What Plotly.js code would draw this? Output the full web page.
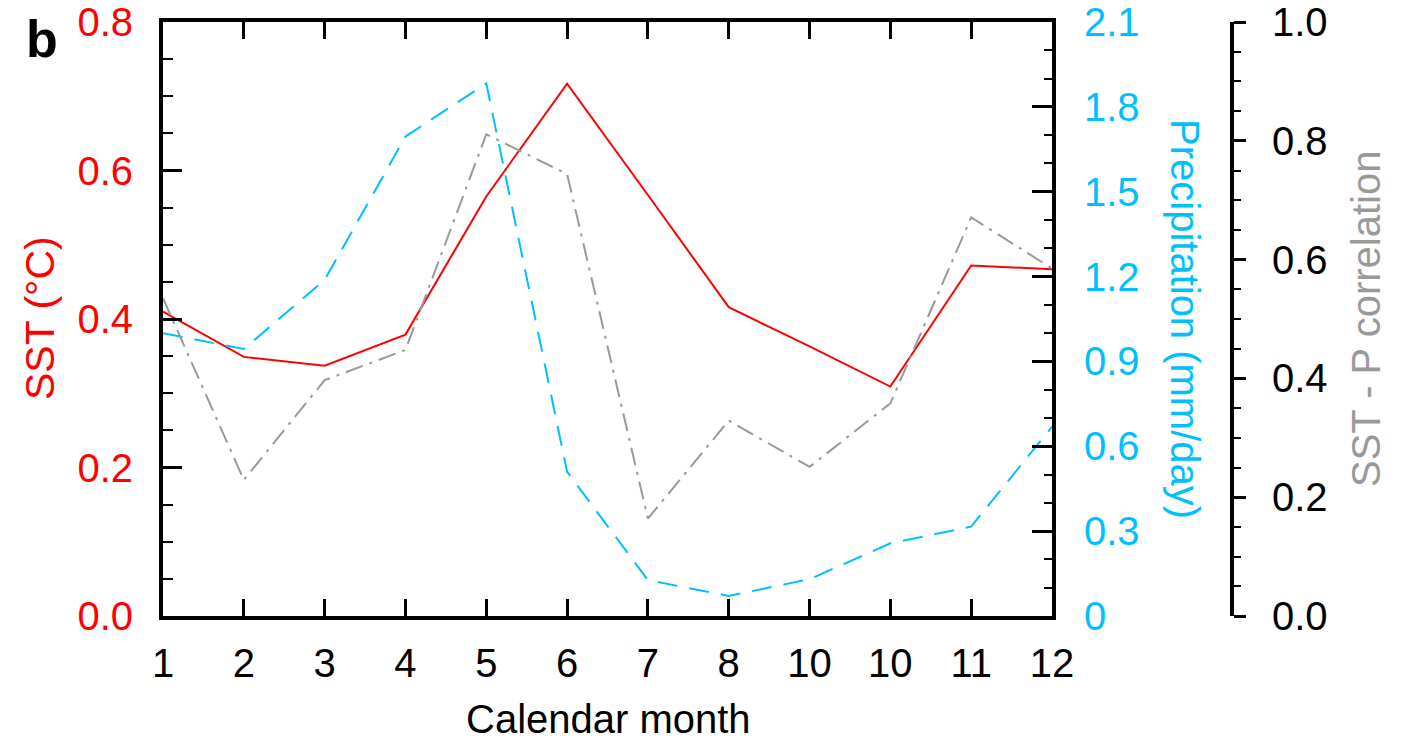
<!DOCTYPE html>
<html>
<head>
<meta charset="utf-8">
<script src="https://cdn.plot.ly/plotly-3.0.1.min.js"></script>
<style>html,body{margin:0;padding:0;background:#fff;}#chart{width:1403px;height:743px;}</style>
</head>
<body>
<div id="chart"></div>
<script>
// ---- data ----
var months = [1, 2, 3, 4, 5, 6, 7, 8, 9, 10, 11, 12];
var monthLabels = ["1", "2", "3", "4", "5", "6", "7", "8", "10", "10", "11", "12"];
var sst = [0.41, 0.349, 0.337, 0.379, 0.565, 0.717, 0.567, 0.416, 0.363, 0.309, 0.472, 0.467];
var precip = [1.0, 0.944, 1.188, 1.695, 1.883, 0.51, 0.127, 0.071, 0.13, 0.257, 0.316, 0.669];
var corr = [0.535, 0.229, 0.397, 0.448, 0.811, 0.744, 0.164, 0.329, 0.251, 0.358, 0.671, 0.585];
var sstTicks = [0, 0.2, 0.4, 0.6, 0.8];
var sstTickText = ["0.0", "0.2", "0.4", "0.6", "0.8"];
var precipTicks = [0, 0.3, 0.6, 0.9, 1.2, 1.5, 1.8, 2.1];
var precipTickText = ["0", "0.3", "0.6", "0.9", "1.2", "1.5", "1.8", "2.1"];
var corrTicks = [0, 0.2, 0.4, 0.6, 0.8, 1.0];
var corrTickText = ["0.0", "0.2", "0.4", "0.6", "0.8", "1.0"];

var FONT = "Liberation Sans, Arial, Helvetica, sans-serif";
var RED = "#ff0000", BLUE = "#00bfff", GRAY = "#999999";

var L = 163, R = 140, T = 22, B = 127, W = 1403, H = 743;
var PW = W - L - R, PH = H - T - B;
function px(x) { return (x - L) / PW; }
function py(y) { return (H - B - y) / PH; }

var traces = [
  { x: months, y: corr, yaxis: "y3", mode: "lines", line: { color: GRAY, width: 2, dash: "18px,7px,3px,7px" }, hoverinfo: "skip" },
  { x: months, y: precip, yaxis: "y2", mode: "lines", line: { color: BLUE, width: 2, dash: "20px,12px" }, hoverinfo: "skip" },
  { x: months, y: sst, yaxis: "y", mode: "lines", line: { color: RED, width: 2 }, hoverinfo: "skip" }
];

var layout = {
  width: W, height: H,
  margin: { l: L, r: R, t: T, b: B, pad: 0 },
  paper_bgcolor: "#fff", plot_bgcolor: "#fff",
  showlegend: false,
  font: { family: FONT, size: 40, color: "#000" },
  xaxis: {
    domain: [0, px(1052)],
    range: [1, 12],
    tickmode: "array", tickvals: months, ticktext: monthLabels,
    ticks: "inside", ticklen: 17, tickwidth: 3, tickcolor: "#000",
    showline: true, linewidth: 4, linecolor: "#000", mirror: "ticks",
    showgrid: false, zeroline: false,
    tickfont: { family: FONT, size: 40, color: "#000" },
    ticklabelstandoff: 9
  },
  yaxis: {
    range: [0, 0.8],
    tickmode: "array", tickvals: sstTicks, ticktext: sstTickText,
    ticks: "inside", ticklen: 19, tickwidth: 3, tickcolor: "#000",
    minor: { tickmode: "linear", tick0: 0, dtick: 0.05, ticks: "inside", ticklen: 10, tickwidth: 2, tickcolor: "#000" },
    showline: true, linewidth: 4, linecolor: "#000",
    showgrid: false, zeroline: false,
    tickfont: { family: FONT, size: 40, color: RED },
    ticklabelstandoff: 18
  },
  yaxis2: {
    overlaying: "y", side: "right", anchor: "x",
    range: [0, 2.1],
    tickmode: "array", tickvals: precipTicks, ticktext: precipTickText,
    ticks: "inside", ticklen: 20, tickwidth: 3, tickcolor: "#000",
    minor: { tickmode: "linear", tick0: 0, dtick: 0.1, ticks: "inside", ticklen: 8, tickwidth: 2, tickcolor: "#000" },
    showline: true, linewidth: 4, linecolor: "#000",
    showgrid: false, zeroline: false,
    tickfont: { family: FONT, size: 40, color: BLUE },
    ticklabelstandoff: 20
  },
  yaxis3: {
    overlaying: "y", side: "right", anchor: "free", position: px(1232),
    range: [0, 1],
    tickmode: "array", tickvals: corrTicks, ticktext: corrTickText,
    ticks: "outside", ticklen: 12, tickwidth: 3, tickcolor: "#000",
    minor: { tickmode: "linear", tick0: 0, dtick: 0.05, ticks: "outside", ticklen: 7, tickwidth: 2, tickcolor: "#000" },
    showline: true, linewidth: 4, linecolor: "#000",
    showgrid: false, zeroline: false,
    tickfont: { family: FONT, size: 40, color: "#000" },
    ticklabelstandoff: 18
  },
  annotations: [
    { text: "<b>b</b>", xref: "paper", yref: "paper", x: px(41.5), y: py(39), xanchor: "center", yanchor: "middle", showarrow: false, font: { family: FONT, size: 52, color: "#000" } },
    { text: "SST (\u00B0C)", xref: "paper", yref: "paper", x: px(40), y: py(318), xanchor: "center", yanchor: "middle", textangle: -90, showarrow: false, font: { family: FONT, size: 41, color: RED } },
    { text: "Precipitation (mm/day)", xref: "paper", yref: "paper", x: px(1185), y: py(319), xanchor: "center", yanchor: "middle", textangle: 90, showarrow: false, font: { family: FONT, size: 40, color: BLUE } },
    { text: "SST - P correlation", xref: "paper", yref: "paper", x: px(1366), y: py(319), xanchor: "center", yanchor: "middle", textangle: -90, showarrow: false, font: { family: FONT, size: 40, color: GRAY } },
    { text: "Calendar month", xref: "paper", yref: "paper", x: px(608), y: py(719), xanchor: "center", yanchor: "middle", showarrow: false, font: { family: FONT, size: 40, color: "#000" } }
  ]
};

Plotly.newPlot("chart", traces, layout, { staticPlot: true, displayModeBar: false });
</script>
</body>
</html>
